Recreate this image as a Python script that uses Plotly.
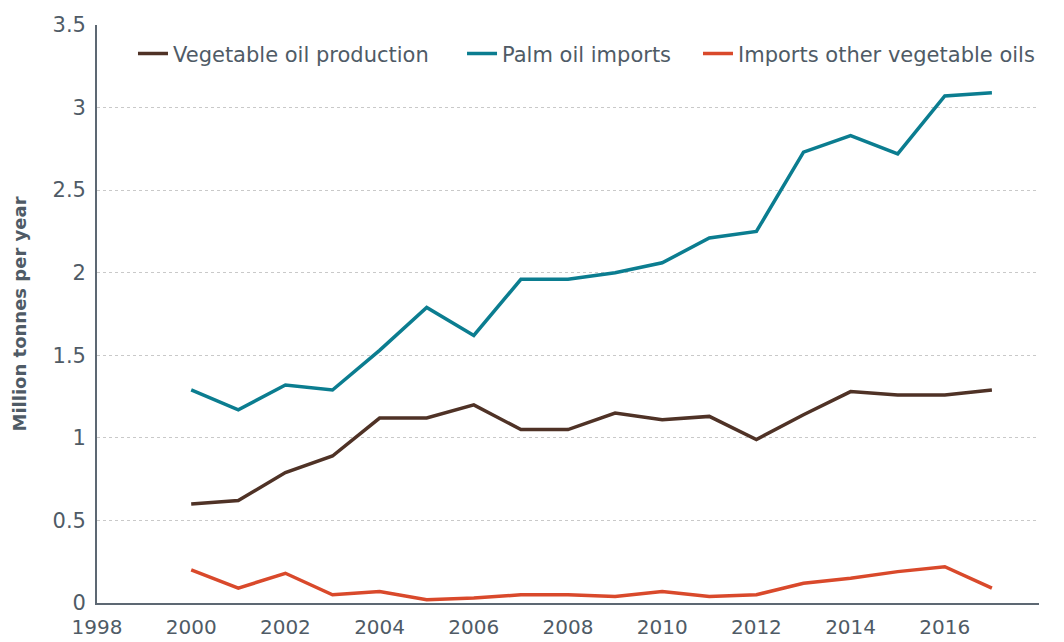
import plotly.graph_objects as go

years = list(range(2000, 2018))

veg_oil_production = [0.60, 0.62, 0.79, 0.89, 1.12, 1.12, 1.20, 1.05, 1.05,
                      1.15, 1.11, 1.13, 0.99, 1.14, 1.28, 1.26, 1.26, 1.29]
palm_oil_imports = [1.29, 1.17, 1.32, 1.29, 1.53, 1.79, 1.62, 1.96, 1.96,
                    2.00, 2.06, 2.21, 2.25, 2.73, 2.83, 2.72, 3.07, 3.09]
other_veg_imports = [0.20, 0.09, 0.18, 0.05, 0.07, 0.02, 0.03, 0.05, 0.05,
                     0.04, 0.07, 0.04, 0.05, 0.12, 0.15, 0.19, 0.22, 0.09]

series = [
    ("Vegetable oil production", veg_oil_production, "#4f3226", "legend"),
    ("Palm oil imports", palm_oil_imports, "#0b7d90", "legend2"),
    ("Imports other vegetable oils", other_veg_imports, "#d9492b", "legend3"),
]

text_color = "#4f5b66"
axis_color = "#5d6873"
font_family = "DejaVu Sans, sans-serif"

fig = go.Figure()
for name, vals, color, leg in series:
    fig.add_trace(
        go.Scatter(
            x=years,
            y=vals,
            name=name,
            mode="lines",
            line=dict(color=color, width=3.5),
            legend=leg,
        )
    )


# una leyenda por serie para poder colocarlas como en el original
def leyenda(x):
    return dict(
        orientation="h",
        x=x,
        y=0.95,
        xanchor="left",
        yanchor="middle",
        font=dict(size=21, color=text_color),
        bgcolor="rgba(0,0,0,0)",
        itemwidth=30,
    )


# la página html deja 8px de margen, por eso 1056x634
fig.update_layout(
    width=1056,
    height=634,
    margin=dict(l=89, r=25, t=17, b=39),
    paper_bgcolor="white",
    plot_bgcolor="white",
    font=dict(family=font_family, size=21, color=text_color),
    showlegend=True,
    legend=leyenda(0.0382),
    legend2=leyenda(0.3875),
    legend3=leyenda(0.638),
    xaxis=dict(
        range=[1998, 2018],
        tick0=1998,
        dtick=2,
        automargin=False,
        showgrid=False,
        zeroline=False,
        showline=True,
        linecolor=axis_color,
        linewidth=1.7,
        ticks="",
        ticklabelstandoff=5,
        tickfont=dict(size=20, color=text_color),
    ),
    yaxis=dict(
        range=[0, 3.5],
        dtick=0.5,
        automargin=False,
        showgrid=True,
        gridcolor="#c9c9c9",
        griddash="dot",
        gridwidth=1,
        zeroline=False,
        showline=True,
        linecolor=axis_color,
        linewidth=1.7,
        ticks="",
        ticklabelstandoff=5,
        tickfont=dict(size=21, color=text_color),
        title=dict(
            text="<b>Million tonnes per year</b>",
            font=dict(size=18, color=text_color),
            standoff=21,
        ),
    ),
)

fig.write_html("out.html")
